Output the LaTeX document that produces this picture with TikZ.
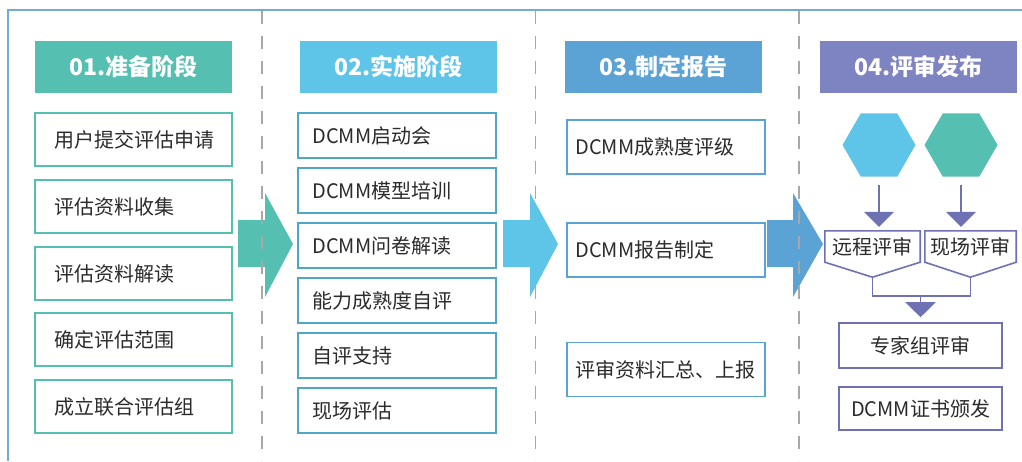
\documentclass[tikz,border=0pt]{standalone}
\usepackage{fontspec}
\setmainfont{Noto Sans CJK SC}
\usetikzlibrary{shapes.geometric,arrows.meta,calc}
\definecolor{tealA}{HTML}{55BFB2}
\definecolor{blueA}{HTML}{5EC4E8}
\definecolor{blueB}{HTML}{5BA2D5}
\definecolor{purpA}{HTML}{7E83C1}
\definecolor{purpD}{HTML}{6E71B4}
\definecolor{frameC}{HTML}{74AADB}
\definecolor{txtC}{HTML}{2B2B2B}
\definecolor{dashC}{HTML}{A8A8A8}
\begin{document}
\begin{tikzpicture}[x=1pt,y=-1pt,
  hdr/.style={fill=#1, minimum width=197, minimum height=52, inner sep=0, text=white, font=\fontsize{23}{23}\selectfont\bfseries},
  box/.style={draw=#1, line width=1.6, fill=white, inner sep=0},
  lbl/.style={anchor=west, inner sep=0, text=txtC, font=\fontsize{20}{20}\selectfont},
  clbl/.style={inner sep=0, text=txtC, font=\fontsize{20}{20}\selectfont},
  hex/.style={regular polygon, regular polygon sides=6, minimum size=73, inner sep=0, fill=#1},
  darr/.style={draw=purpD, line width=1.8, -{Triangle[width=30pt,length=15pt]}},
  conn/.style={draw=purpD, line width=1.6},
  sep/.style={draw=dashC, line width=1.6, dash pattern=on 13pt off 12pt}
]
\useasboundingbox[fill=white] (0,0) rectangle (1022,461);
% frame
\draw[frameC, line width=2.2] (8,461) -- (8,10) -- (1030,10);

% block arrows
\fill[tealA] (238,220) -- (265,220) -- (265,193) -- (293,244) -- (265,297) -- (265,267) -- (238,267) -- cycle;
\fill[blueA] (503,220) -- (530,220) -- (530,193) -- (558,244) -- (530,297) -- (530,267) -- (503,267) -- cycle;
\fill[blueB] (767,220) -- (793,220) -- (793,193) -- (823,244) -- (793,297) -- (793,267) -- (767,267) -- cycle;

% dashed separators
\draw[sep] (262,11) -- (262,461);
\draw[sep] (535.5,11) -- (535.5,461);
\draw[sep] (799,11) -- (799,461);

% column 1
\node[hdr=tealA] (h1) at (133.5,67) {01.准备阶段};
\node[box=tealA, minimum width=197, minimum height=53] (a1) at (133.5,139.5) {};
\node[box=tealA, minimum width=197, minimum height=53] (a2) at (133.5,206.5) {};
\node[box=tealA, minimum width=197, minimum height=53] (a3) at (133.5,273.5) {};
\node[box=tealA, minimum width=197, minimum height=53] (a4) at (133.5,339.5) {};
\node[box=tealA, minimum width=197, minimum height=53] (a5) at (133.5,406.5) {};
\node[lbl] (ta1) at ($(a1.west)+(20,0)$) {用户提交评估申请};
\node[lbl] (ta2) at ($(a2.west)+(20,0)$) {评估资料收集};
\node[lbl] (ta3) at ($(a3.west)+(20,0)$) {评估资料解读};
\node[lbl] (ta4) at ($(a4.west)+(20,0)$) {确定评估范围};
\node[lbl] (ta5) at ($(a5.west)+(20,0)$) {成立联合评估组};

% column 2
\node[hdr=blueA] (h2) at (398.5,67) {02.实施阶段};
\node[box=blueA!85!black, minimum width=198, minimum height=45] (b1) at (397,135.5) {};
\node[box=blueA!85!black, minimum width=198, minimum height=45] (b2) at (397,190.5) {};
\node[box=blueA!85!black, minimum width=198, minimum height=45] (b3) at (397,245.5) {};
\node[box=blueA!85!black, minimum width=198, minimum height=45] (b4) at (397,300.5) {};
\node[box=blueA!85!black, minimum width=198, minimum height=45] (b5) at (397,355.5) {};
\node[box=blueA!85!black, minimum width=198, minimum height=45] (b6) at (397,410.5) {};
\node[lbl] (tb1) at ($(b1.west)+(15,0)$) {DCMM启动会};
\node[lbl] (tb2) at ($(b2.west)+(15,0)$) {DCMM模型培训};
\node[lbl] (tb3) at ($(b3.west)+(15,0)$) {DCMM问卷解读};
\node[lbl] (tb4) at ($(b4.west)+(15,0)$) {能力成熟度自评};
\node[lbl] (tb5) at ($(b5.west)+(15,0)$) {自评支持};
\node[lbl] (tb6) at ($(b6.west)+(15,0)$) {现场评估};

% column 3
\node[hdr=blueB] (h3) at (663.5,67) {03.制定报告};
\node[box=blueB, minimum width=198, minimum height=54] (c1) at (666,147) {};
\node[box=blueB, minimum width=198, minimum height=54] (c2) at (666,250) {};
\node[box=blueB, minimum width=198, minimum height=54] (c3) at (666,369.5) {};
\node[lbl] (tc1) at ($(c1.west)+(9,0)$) {DCMM成熟度评级};
\node[lbl] (tc2) at ($(c2.west)+(9,0)$) {DCMM报告制定};
\node[lbl] (tc3) at ($(c3.west)+(9,0)$) {评审资料汇总、上报};

% column 4
\node[hdr=purpA] (h4) at (918.5,67) {04.评审发布};
\node[hex=blueA] (x1) at (879,145) {};
\node[hex=tealA] (x2) at (961,145) {};
\node[clbl, minimum width=95, minimum height=31] (r1) at (872.5,246.5) {远程评审};
\node[clbl, minimum width=91, minimum height=31] (r2) at (970.5,246.5) {现场评审};
\coordinate (p1) at ($(r1.south)+(0,15)$);
\coordinate (p2) at ($(r2.south)+(0,15)$);
\draw[conn] (r1.south west) -- (r1.north west) -- (r1.north east) -- (r1.south east) -- (p1) -- cycle;
\draw[conn] (r2.south west) -- (r2.north west) -- (r2.north east) -- (r2.south east) -- (p2) -- cycle;
\node[box=purpD, minimum width=163, minimum height=45] (e1) at (920.5,345.5) {};
\node[clbl] (te1) at (e1) {专家组评审};
\node[box=purpD, minimum width=163, minimum height=43] (e2) at (920.5,408.5) {};
\node[clbl] (te2) at (e2) {DCMM证书颁发};
\draw[darr, shorten <=8pt, shorten >=4pt] (x1.south) -- (x1.south |- r1.north);
\draw[darr, shorten <=8pt, shorten >=4pt] (x2.south) -- (x2.south |- r2.north);
\coordinate (j) at ($(p1)+(0,19)$);
\draw[conn] (p1) -- (j) -| (p2);
\draw[darr, shorten >=5pt] (j -| e1.north) -- (e1.north);
\end{tikzpicture}
\end{document}
